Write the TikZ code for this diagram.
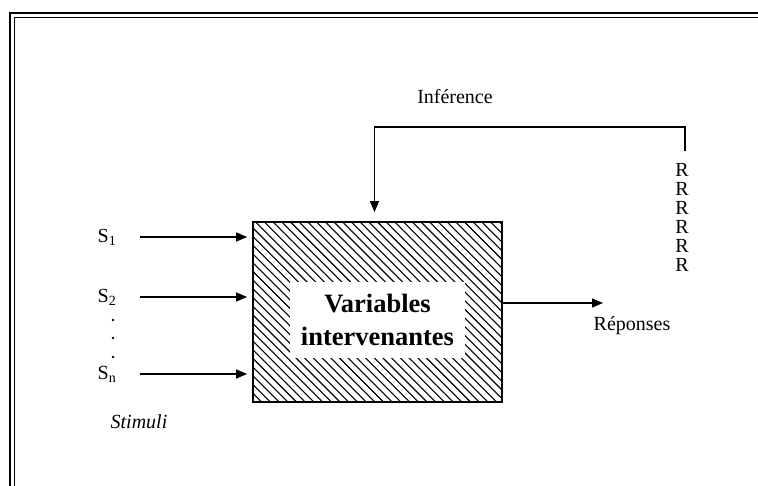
\documentclass[tikz,border=0pt]{standalone}
\usepackage{fontspec}
\setmainfont{Liberation Serif}
\usetikzlibrary{arrows.meta}
\tikzset{
  flow/.style={line width=1.4pt,-{Triangle[length=11pt,width=9pt]}},
  lab/.style={font=\fontsize{20}{22}\selectfont,inner sep=0pt},
  pt/.style={circle,fill=black,inner sep=0pt,minimum size=2.6pt},
}
\begin{document}
\begin{tikzpicture}[x=1pt,y=-1pt]
\useasboundingbox (0,0) rectangle (758,486);
\clip (0,0) rectangle (758,486);
% cadre double
\draw[line width=1.3pt] (10,13) rectangle (790,520);
\draw[line width=1.3pt] (14.5,17.5) rectangle (785,515);
% hachures
\begin{scope}
\clip (253,222) rectangle (502,402);
\foreach \i in {0,...,50}
  \draw[line width=1.1pt] (73+\i*8.7,222) -- ++(180,180);
\end{scope}
\node[draw,line width=1.8pt,minimum width=249pt,minimum height=180pt] (vi) at (377.5,312) {};
\node[fill=white,minimum width=175pt,minimum height=76pt,align=center,
  font=\bfseries\fontsize{26.5}{33}\selectfont] (txt) at (377.5,320) {Variables\\intervenantes};
% stimuli
\node[lab] (s1) at (107,237) {S\textsubscript{1}};
\node[lab] (s2) at (107,297) {S\textsubscript{2}};
\node[lab] (sn) at (107,374) {S\textsubscript{n}};
\foreach \k/\y in {1/320,2/338,3/357}
  \node[pt] (dot\k) at (113,\y) {};
\node[lab,font=\itshape\fontsize{20}{22}\selectfont] (stim) at (139,422) {Stimuli};
\draw[flow,shorten <=23pt,shorten >=5pt] (s1.east) -- (vi.west |- s1.east);
\draw[flow,shorten <=23pt,shorten >=5pt] (s2.east) -- (vi.west |- s2.east);
\draw[flow,shorten <=23pt,shorten >=5pt] (sn.east) -- (vi.west |- sn.east);
% reponses
\coordinate (rep) at (603,303);
\draw[flow] (vi.east |- rep) -- (rep);
\node[lab] (reponses) at (632,326) {Réponses};
\foreach \k in {0,...,5}
  \node[lab] (r\k) at (682,170+19*\k) {R};
% inference
\coordinate (rtop) at (685,151);
\coordinate (coin) at (685,127);
\draw[flow,shorten >=9pt] (rtop) -- (coin) -| ([xshift=-3pt]vi.north);
\node[lab] (inf) at (455,97) {Inférence};
\end{tikzpicture}
\end{document}
